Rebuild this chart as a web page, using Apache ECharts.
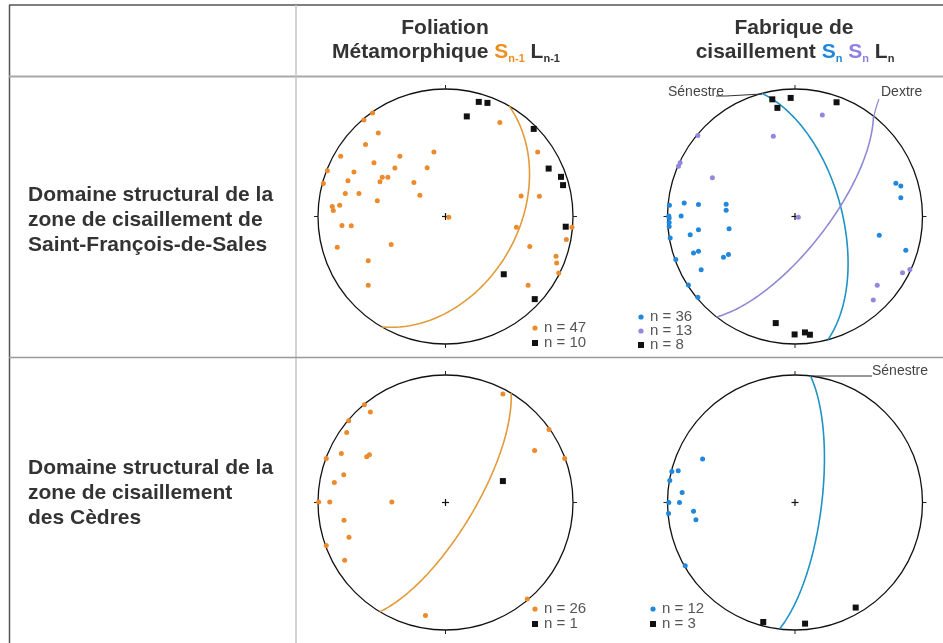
<!DOCTYPE html>
<html>
<head>
<meta charset="utf-8">
<script src="https://cdn.jsdelivr.net/npm/echarts@6/dist/echarts.min.js"></script>
<style>
html, body { margin: 0; padding: 0; background: #ffffff; }
#c { width: 943px; height: 643px; }
</style>
</head>
<body>
<div id="c"></div>
<script>
// ---- Stereonet data (lower hemisphere, equal-area, unit primitive: [east, north]) ----

// Saint-François-de-Sales — metamorphic foliation Sn-1 (poles) and lineation Ln-1
const sfsSn1Poles = [
  [-0.572, 0.811], [-0.640, 0.756], [-0.527, 0.655], [0.426, 0.738], [-0.627, 0.565],
  [-0.822, 0.472], [-0.091, 0.505], [-0.358, 0.472], [-0.561, 0.422], [0.723, 0.505],
  [-0.927, 0.358], [-0.718, 0.350], [-0.397, 0.381], [-0.144, 0.383], [-0.958, 0.259],
  [-0.765, 0.280], [-0.496, 0.308], [-0.452, 0.308], [-0.514, 0.272], [-0.248, 0.267],
  [-0.786, 0.181], [-0.679, 0.181], [-0.201, 0.166], [-0.535, 0.124], [0.593, 0.161],
  [0.736, 0.158], [-0.888, 0.078], [-0.830, 0.088], [-0.880, 0.047], [0.026, -0.005],
  [-0.812, -0.070], [-0.739, -0.073], [0.556, -0.085], [0.992, -0.085], [0.948, -0.181],
  [-0.849, -0.241], [-0.426, -0.220], [0.661, -0.236], [0.867, -0.311], [0.872, -0.365],
  [-0.606, -0.347], [0.888, -0.443], [0.648, -0.539], [-0.606, -0.539]
];
const sfsLn1 = [
  [0.261, 0.899], [0.329, 0.891], [0.167, 0.785], [0.692, 0.687], [0.809, 0.376],
  [0.906, 0.311], [0.922, 0.246], [0.943, -0.080], [0.457, -0.453], [0.700, -0.648]
];
const sfsSn1Plane = [30, 43];           // strike (right-hand rule), dip

// Saint-François-de-Sales — shear fabric Sn (sinistral / dextral) and Ln
const sfsSnSinPoles = [
  [0.791, 0.260], [0.830, 0.239], [0.830, 0.148], [-0.869, 0.106], [-0.757, 0.094],
  [-0.540, 0.096], [-0.985, 0.088], [-0.540, 0.049], [-0.990, 0.003], [-0.987, -0.012],
  [-0.893, 0.003], [-0.987, -0.047], [-0.987, -0.078], [-0.757, -0.104], [-0.517, -0.096],
  [-0.822, -0.143], [-0.979, -0.169], [0.661, -0.148], [-0.796, -0.286], [-0.757, -0.273],
  [-0.561, -0.319], [-0.522, -0.299], [0.869, -0.265], [-0.935, -0.338], [-0.736, -0.418],
  [-0.836, -0.538], [-0.762, -0.634]
];
const sfsSnDexPoles = [
  [0.214, 0.797], [-0.170, 0.629], [-0.762, 0.636], [-0.901, 0.421], [-0.914, 0.395],
  [-0.648, 0.304], [0.026, -0.005], [0.843, -0.442], [0.901, -0.416], [0.645, -0.540],
  [0.614, -0.655]
];
const sfsLn = [
  [-0.178, 0.919], [-0.034, 0.930], [-0.138, 0.852], [0.326, 0.896],
  [-0.151, -0.836], [-0.003, -0.925], [0.078, -0.909], [0.117, -0.927]
];
const sfsSnSinPlane = [345, 60];
const sfsSnDexPlane = [38, 70];

// Cèdres — metamorphic foliation Sn-1 and lineation Ln-1
const cedSn1Poles = [
  [0.450, 0.851], [-0.636, 0.767], [-0.589, 0.709], [-0.759, 0.641], [-0.775, 0.550],
  [0.812, 0.573], [-0.935, 0.346], [-0.817, 0.385], [-0.618, 0.359], [-0.597, 0.374],
  [0.699, 0.408], [0.935, 0.346], [-0.798, 0.217], [-0.872, 0.157], [-0.995, 0.003],
  [-0.908, 0.003], [-0.421, 0.003], [-0.796, -0.139], [-0.757, -0.272], [-0.935, -0.338],
  [-0.791, -0.453], [0.641, -0.757], [-0.157, -0.887]
];
const cedLn1 = [[0.450, 0.168]];
const cedSn1Plane = [31, 72];

// Cèdres — shear fabric Sn (sinistral) and Ln
const cedSnPoles = [
  [-0.725, 0.341], [-0.966, 0.244], [-0.916, 0.249], [-0.982, 0.173], [-0.885, 0.079],
  [-0.990, 0.000], [-0.906, 0.000], [-0.992, -0.087], [-0.796, -0.068], [-0.777, -0.136],
  [-0.861, -0.496]
];
const cedLn = [[-0.249, -0.937], [0.079, -0.950], [0.476, -0.824]];
const cedSnPlane = [7, 73];

// Measurement counts shown beside each net
const sfsFoliationCounts = [47, 10];
const sfsShearCounts = [36, 13, 8];
const cedFoliationCounts = [26, 1];
const cedShearCounts = [12, 3];

// Row / column headings
const rowTitles = [
  ['Domaine structural de la', 'zone de cisaillement de', 'Saint-François-de-Sales'],
  ['Domaine structural de la', 'zone de cisaillement', 'des Cèdres']
];

// ---- Colours ----
const ORANGE = '#EC8A2C', ORANGE_LINE = '#E39A38';
const BLUE = '#2087DC', BLUE_LINE = '#1E93C4';
const PURPLE = '#9187E0', PURPLE_LINE = '#8F88D2';
const BLACK = '#111111';
const FONT = '"Liberation Sans", Arial, Helvetica, sans-serif';

// Equal-area (Schmidt) trace of a plane given as [strike, dip]
function greatCircle(plane, steps) {
  const s = plane[0] * Math.PI / 180, d = plane[1] * Math.PI / 180, dd = s + Math.PI / 2;
  const S = [Math.sin(s), Math.cos(s), 0];
  const D = [Math.sin(dd) * Math.cos(d), Math.cos(dd) * Math.cos(d), -Math.sin(d)];
  const pts = [];
  for (let i = 0; i <= steps; i++) {
    const t = Math.PI * i / steps;
    const e = Math.cos(t) * S[0] + Math.sin(t) * D[0];
    const n = Math.cos(t) * S[1] + Math.sin(t) * D[1];
    const z = Math.cos(t) * S[2] + Math.sin(t) * D[2];
    const k = 1 / Math.sqrt(1 + Math.abs(z));
    pts.push([e * k, n * k]);
  }
  return pts;
}

// Net placement: centre in page pixels, primitive radius
const R = 127.5;
const nets = [
  { cx: 445.5, cy: 216.5,
    planes: [{ p: sfsSn1Plane, c: ORANGE_LINE }],
    sets: [{ d: sfsSn1Poles, c: ORANGE, s: 'circle' }, { d: sfsLn1, c: BLACK, s: 'rect' }] },
  { cx: 795, cy: 216.5,
    planes: [{ p: sfsSnSinPlane, c: BLUE_LINE }, { p: sfsSnDexPlane, c: PURPLE_LINE }],
    sets: [{ d: sfsSnSinPoles, c: BLUE, s: 'circle' }, { d: sfsSnDexPoles, c: PURPLE, s: 'circle' },
           { d: sfsLn, c: BLACK, s: 'rect' }] },
  { cx: 445.5, cy: 502.5,
    planes: [{ p: cedSn1Plane, c: ORANGE_LINE }],
    sets: [{ d: cedSn1Poles, c: ORANGE, s: 'circle' }, { d: cedLn1, c: BLACK, s: 'rect' }] },
  { cx: 795, cy: 502.5,
    planes: [{ p: cedSnPlane, c: BLUE_LINE }],
    sets: [{ d: cedSnPoles, c: BLUE, s: 'circle' }, { d: cedLn, c: BLACK, s: 'rect' }] }
];

const grid = [], xAxis = [], yAxis = [], series = [];
nets.forEach((net, i) => {
  grid.push({ left: net.cx - R, top: net.cy - R, width: 2 * R, height: 2 * R });
  xAxis.push({ type: 'value', gridIndex: i, min: -1, max: 1, show: false });
  yAxis.push({ type: 'value', gridIndex: i, min: -1, max: 1, show: false });

  // primitive circle, cardinal ticks and centre cross
  series.push({
    type: 'custom', xAxisIndex: i, yAxisIndex: i, silent: true, data: [[0, 0]], z: 1,
    renderItem: (params, api) => {
      const c = api.coord([0, 0]);
      const e = api.coord([1, 0]);
      const r = e[0] - c[0];
      const ls = { stroke: '#111', lineWidth: 1.3, fill: null };
      const tk = { stroke: '#222', lineWidth: 1 };
      const h = 3.5;
      return { type: 'group', children: [
        { type: 'circle', shape: { cx: c[0], cy: c[1], r: r }, style: ls },
        { type: 'line', shape: { x1: c[0], y1: c[1] - r, x2: c[0], y2: c[1] - r - 4 }, style: tk },
        { type: 'line', shape: { x1: c[0], y1: c[1] + r, x2: c[0], y2: c[1] + r + 4 }, style: tk },
        { type: 'line', shape: { x1: c[0] - r, y1: c[1], x2: c[0] - r - 4, y2: c[1] }, style: tk },
        { type: 'line', shape: { x1: c[0] + r, y1: c[1], x2: c[0] + r + 4, y2: c[1] }, style: tk },
        { type: 'line', shape: { x1: c[0] - h, y1: c[1], x2: c[0] + h, y2: c[1] }, style: { stroke: '#111', lineWidth: 1.2 } },
        { type: 'line', shape: { x1: c[0], y1: c[1] - h, x2: c[0], y2: c[1] + h }, style: { stroke: '#111', lineWidth: 1.2 } }
      ] };
    }
  });

  net.planes.forEach(pl => {
    series.push({
      type: 'line', xAxisIndex: i, yAxisIndex: i, data: greatCircle(pl.p, 180),
      showSymbol: false, symbol: 'none', smooth: false, silent: true, clip: false, z: 2,
      lineStyle: { color: pl.c, width: 1.6 }
    });
  });

  net.sets.forEach(st => {
    series.push({
      type: 'scatter', xAxisIndex: i, yAxisIndex: i, data: st.d, clip: false, silent: true, z: 3,
      symbol: st.s, symbolSize: st.s === 'rect' ? 6 : 5,
      itemStyle: { color: st.c, opacity: 1 }
    });
  });
});

// ---- Table rules, headings, legends and annotations ----
const graphic = [];
function hline(x1, x2, y, color, w) {
  graphic.push({ type: 'line', shape: { x1, y1: y, x2, y2: y }, style: { stroke: color, lineWidth: w }, z: 0 });
}
function vline(x, y1, y2, color, w) {
  graphic.push({ type: 'line', shape: { x1: x, y1, x2: x, y2 }, style: { stroke: color, lineWidth: w }, z: 0 });
}
hline(9, 943, 5, '#555', 1.5);
vline(9.5, 5, 643, '#555', 1.5);
hline(9, 943, 76.5, '#a8a8a8', 2);
vline(296, 5, 643, '#c4c4c4', 1.5);
hline(9, 943, 357.5, '#9a9a9a', 1.5);

// column headings
const HS = 21, SS = 11;
const headRich = {
  m: { fontSize: HS, fontWeight: 'bold', fontFamily: FONT, fill: '#333', lineHeight: 24 },
  so: { fontSize: HS, fontWeight: 'bold', fontFamily: FONT, fill: '#EF8E1F', lineHeight: 24 },
  sb: { fontSize: HS, fontWeight: 'bold', fontFamily: FONT, fill: '#1F86DE', lineHeight: 24 },
  sp: { fontSize: HS, fontWeight: 'bold', fontFamily: FONT, fill: '#8D80E2', lineHeight: 24 },
  subo: { fontSize: SS, fontWeight: 'bold', fontFamily: FONT, fill: '#EF8E1F', verticalAlign: 'bottom', lineHeight: 24 },
  subb: { fontSize: SS, fontWeight: 'bold', fontFamily: FONT, fill: '#1F86DE', verticalAlign: 'bottom', lineHeight: 24 },
  subp: { fontSize: SS, fontWeight: 'bold', fontFamily: FONT, fill: '#8D80E2', verticalAlign: 'bottom', lineHeight: 24 },
  subk: { fontSize: SS, fontWeight: 'bold', fontFamily: FONT, fill: '#333', verticalAlign: 'bottom', lineHeight: 24 }
};
function headText(x, y, text) {
  graphic.push({ type: 'text', x, y, z: 5,
    style: { text, rich: headRich, align: 'center', verticalAlign: 'middle',
             font: 'bold ' + HS + 'px ' + FONT, fill: '#333' } });
}
headText(445, 28, '{m|Foliation}');
headText(446, 52, '{m|Métamorphique }{so|S}{subo|n-1}{m| L}{subk|n-1}');
headText(794, 28, '{m|Fabrique de}');
headText(795, 52, '{m|cisaillement }{sb|S}{subb|n}{m| }{sp|S}{subp|n}{m| L}{subk|n}');

// row headings
rowTitles.forEach((lines, r) => {
  const y0 = r === 0 ? 195 : 468;
  lines.forEach((t, k) => {
    graphic.push({ type: 'text', x: 28, y: y0 + k * 25, z: 5,
      style: { text: t, font: 'bold 21px ' + FONT, fill: '#333', verticalAlign: 'middle', align: 'left' } });
  });
});

// legends
function legendRow(x, y, color, shape, count) {
  if (shape === 'circle') {
    graphic.push({ type: 'circle', shape: { cx: x, cy: y, r: 2.6 }, style: { fill: color }, z: 5 });
  } else {
    graphic.push({ type: 'rect', shape: { x: x - 3, y: y - 3, width: 6, height: 6 }, style: { fill: color }, z: 5 });
  }
  graphic.push({ type: 'text', x: x + 9, y: y, z: 5,
    style: { text: 'n = ' + count, font: '15px ' + FONT, fill: '#555', verticalAlign: 'middle' } });
}
legendRow(535, 328, ORANGE, 'circle', sfsFoliationCounts[0]);
legendRow(535, 343, BLACK, 'rect', sfsFoliationCounts[1]);
legendRow(641, 317, BLUE, 'circle', sfsShearCounts[0]);
legendRow(641, 331, PURPLE, 'circle', sfsShearCounts[1]);
legendRow(641, 345, BLACK, 'rect', sfsShearCounts[2]);
legendRow(535, 609, ORANGE, 'circle', cedFoliationCounts[0]);
legendRow(535, 624, BLACK, 'rect', cedFoliationCounts[1]);
legendRow(653, 609, BLUE, 'circle', cedShearCounts[0]);
legendRow(653, 624, BLACK, 'rect', cedShearCounts[1]);

// shear-sense annotations
function note(x, y, text, align) {
  graphic.push({ type: 'text', x, y, z: 5,
    style: { text, font: '14px ' + FONT, fill: '#444', verticalAlign: 'middle', align } });
}
note(724, 92, 'Sénestre', 'right');
graphic.push({ type: 'polyline', shape: { points: [[716, 96], [726, 96], [762, 94]] }, style: { stroke: '#333', lineWidth: 1 }, z: 5 });
note(881, 92, 'Dextre', 'left');
graphic.push({ type: 'polyline', shape: { points: [[879, 99], [876, 108], [873.5, 118]], smooth: 0.4 }, style: { stroke: PURPLE_LINE, lineWidth: 1.2 }, z: 5 });
note(872, 371, 'Sénestre', 'left');
graphic.push({ type: 'line', shape: { x1: 811, y1: 376, x2: 872, y2: 376 }, style: { stroke: '#333', lineWidth: 1 }, z: 5 });

const chart = echarts.init(document.getElementById('c'), null, { renderer: 'canvas' });
chart.setOption({
  animation: false,
  backgroundColor: '#ffffff',
  grid, xAxis, yAxis, series, graphic
});
</script>
</body>
</html>
